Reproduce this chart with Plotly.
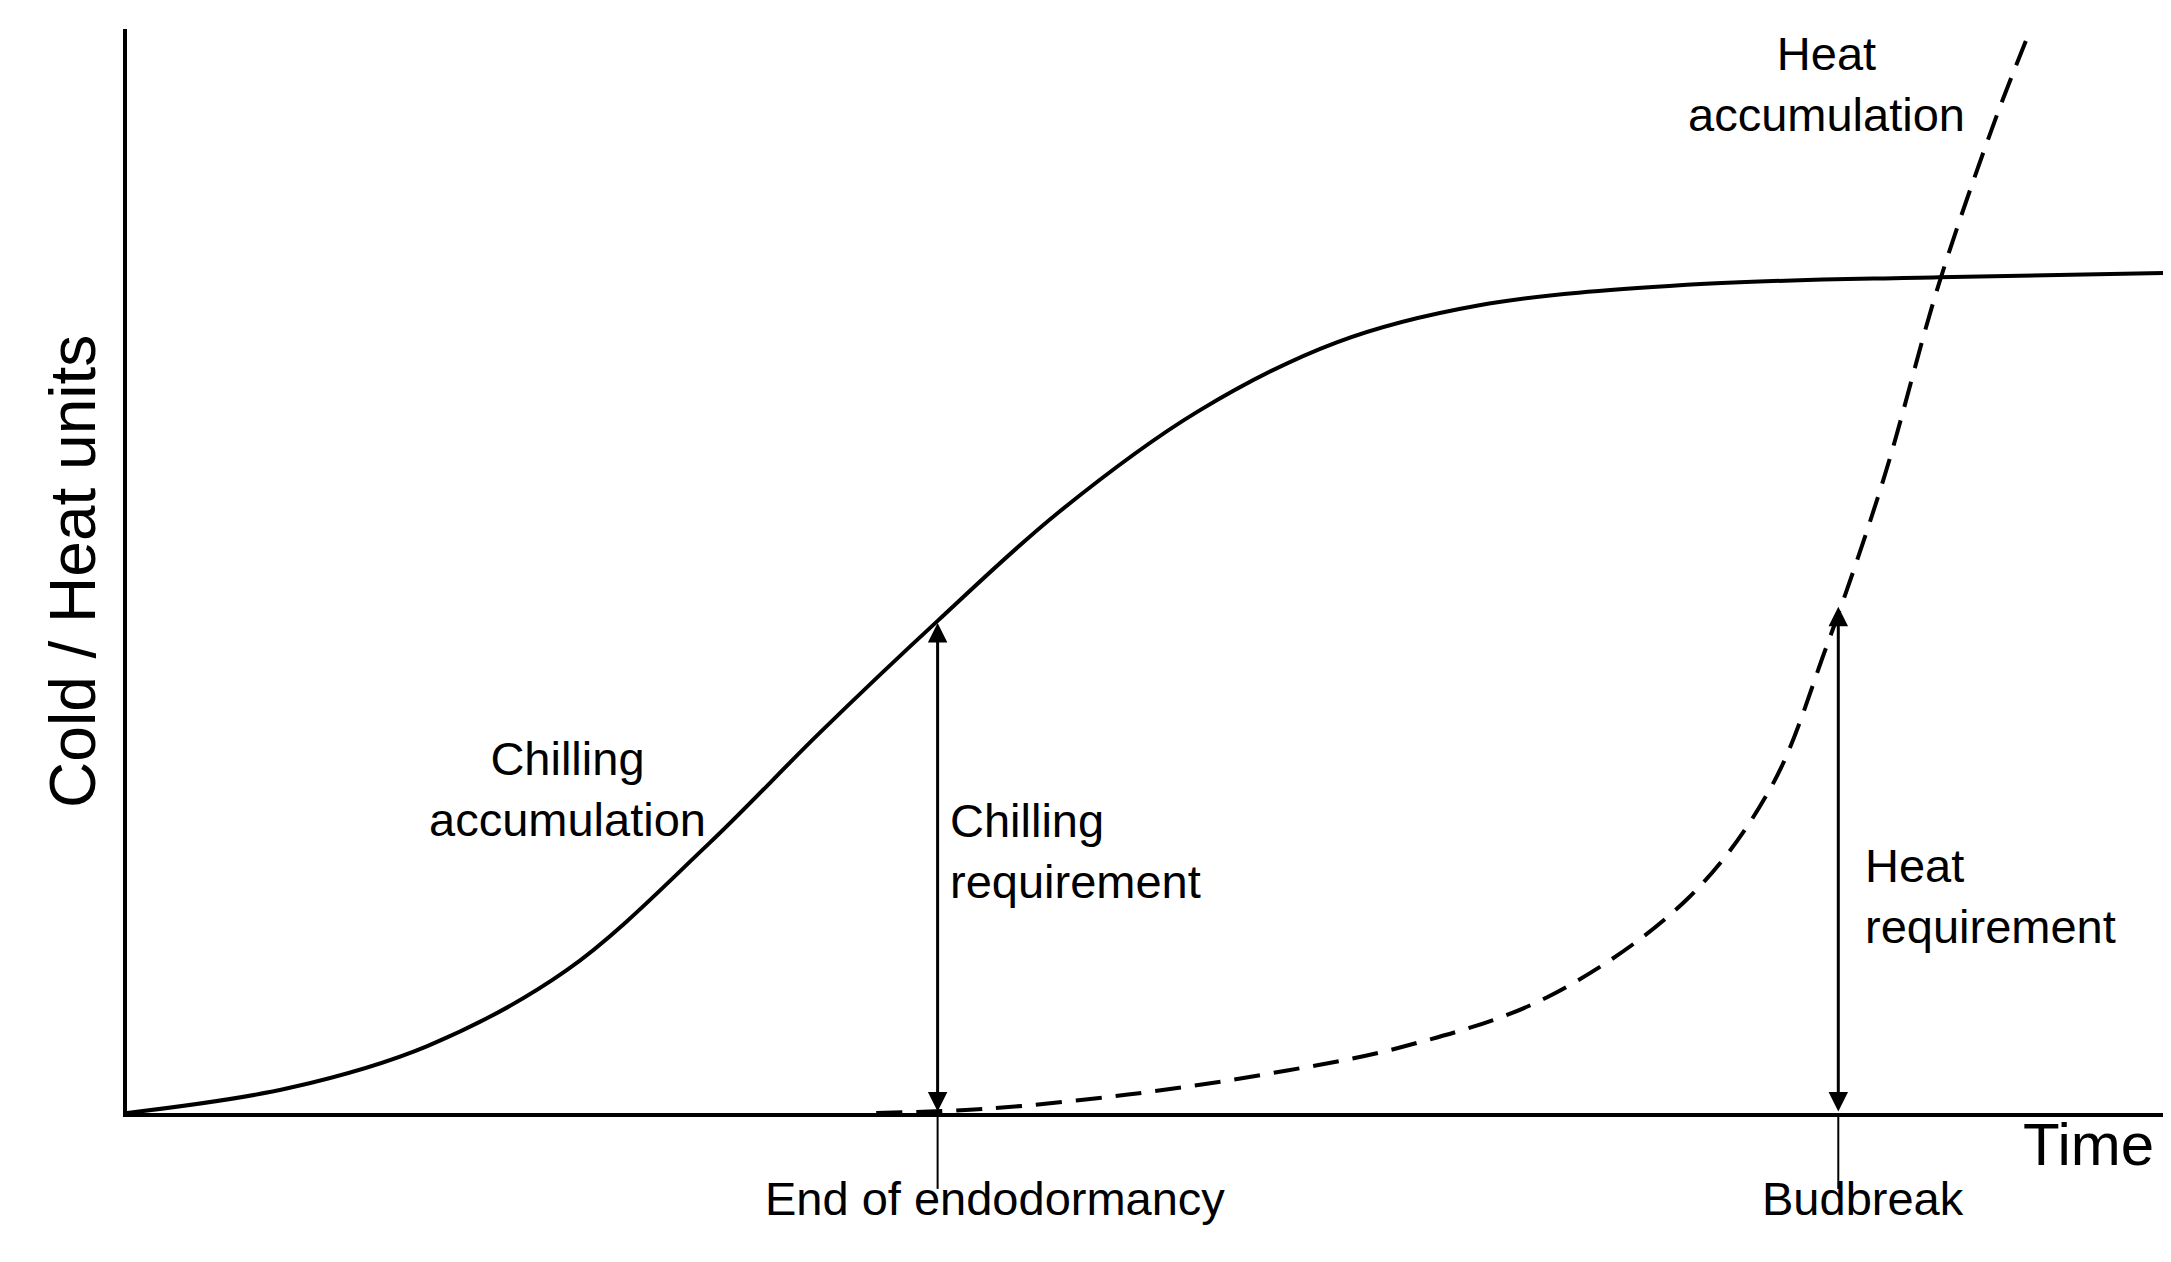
import plotly.graph_objects as go

chill_x = [0, 7.9, 14.7, 21.5, 28.4, 33.8, 39.6, 45.5, 52.3, 59.1, 66.0, 76.2, 88.5, 100]
chill_y = [0, 2.3, 6.2, 13.2, 24.8, 35.0, 45.4, 55.4, 64.7, 71.1, 74.5, 76.4, 77.1, 77.5]
heat_x = [36.6, 42.0, 48.9, 55.7, 62.5, 69.4, 76.2, 80.3, 83.0, 85.8, 88.5, 91.3, 93.0]
heat_y = [0, 0.4, 1.7, 3.6, 6.2, 10.7, 19.7, 30.0, 42.9, 58.4, 76.4, 91.8, 100]
events_x = [39.6, 83.6]
events_req = [45.2, 46.7]
event_labels = ["End of endodormancy", "Budbreak"]
event_label_x = [42.4, 84.8]

F = "Liberation Sans"
fig = go.Figure()
fig.add_trace(go.Scatter(x=chill_x, y=chill_y, mode="lines", line=dict(color="black", width=4, shape="spline", smoothing=1.0), cliponaxis=False))
fig.add_trace(go.Scatter(x=heat_x, y=heat_y, mode="lines", line=dict(color="black", width=4, shape="spline", dash="26px,14px")))

for ex, ey in zip(events_x, events_req):
    fig.add_annotation(x=ex, y=ey, ax=ex, ay=0, xref="x", yref="y", axref="x", ayref="y",
                       showarrow=True, arrowhead=2, arrowside="end+start", arrowwidth=3, arrowsize=1.3,
                       arrowcolor="black", text="")
    fig.add_shape(type="line", x0=ex, x1=ex, y0=0, y1=-0.07, xref="x", yref="paper", line=dict(color="black", width=2))
for lx, t in zip(event_label_x, event_labels):
    fig.add_annotation(x=lx, y=-0.105, xref="x", yref="paper", text=t, showarrow=False, font=dict(family=F, size=47, color="black"))

txt = [
    (21.5, 29.9, "Chilling<br>accumulation", "center"),
    (40.1, 24.2, "Chilling<br>requirement", "left"),
    (84.8, 20.0, "Heat<br>requirement", "left"),
    (83.0, 94.9, "Heat<br>accumulation", "center"),
]
for x, y, t, al in txt:
    fig.add_annotation(x=x, y=y, text=t, showarrow=False, align=al, xanchor=al, font=dict(family=F, size=47, color="black"))
fig.add_annotation(x=95.8, y=-0.062, xref="x", yref="paper", text="Time", showarrow=False, font=dict(family=F, size=60, color="black"))
fig.add_annotation(x=-0.045, y=0.5, xref="paper", yref="paper", text="Cold / Heat units", textangle=-90, showarrow=False, font=dict(family=F, size=64, color="black"))

fig.update_layout(width=2171, height=1262, margin=dict(l=119, r=5, t=21, b=157),
                  plot_bgcolor="white", paper_bgcolor="white", showlegend=False)
fig.update_xaxes(range=[0, 100], showgrid=False, zeroline=False, showticklabels=False, showline=True, linecolor="black", linewidth=4, ticks="")
fig.update_yaxes(range=[0, 100], showgrid=False, zeroline=False, showticklabels=False, showline=True, linecolor="black", linewidth=4, ticks="")
fig.write_html("out.html")
